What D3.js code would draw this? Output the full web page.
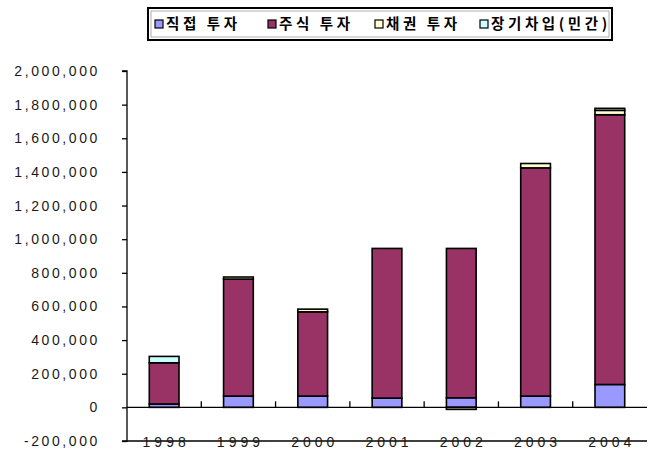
<!DOCTYPE html>
<html>
<head>
<meta charset="utf-8">
<script src="https://cdn.jsdelivr.net/npm/d3@7"></script>
<style>
  html, body { margin: 0; padding: 0; background: #fff; }
  svg { display: block; }
</style>
</head>
<body>
<svg id="chart" width="648" height="454"></svg>
<script>
// Years on the category axis
const years = ["1998", "1999", "2000", "2001", "2002", "2003", "2004"];

// Series names (legend order = stacking order from the bottom)
const seriesNames = ["직접 투자", "주식 투자", "채권 투자", "장기차입(민간)"];

// Series values per year
const directInv = [20000, 67000, 67000, 55000, 57000, 67000, 136000];
const stockInv  = [245000, 696000, 501000, 890000, 888000, 1357000, 1604000];
const bondInv   = [0, 12000, 16000, 0, -12000, 26000, 26000];
const loanInv   = [38000, 0, 0, 0, 0, 0, 12000];

const seriesColors = ["#9999ff", "#993366", "#ffffcc", "#ccffff"];

// Y axis ticks
const yTicks = [-200000, 0, 200000, 400000, 600000, 800000, 1000000, 1200000,
                1400000, 1600000, 1800000, 2000000];

const keys = ["direct", "stock", "bond", "loan"];
const rows = years.map((yr, i) => ({
  year: yr, direct: directInv[i], stock: stockInv[i], bond: bondInv[i], loan: loanInv[i]
}));

const svg = d3.select("#chart");
const plotLeft = 127, plotRight = 647, plotTop = 71, plotBottom = 441;

const x = d3.scaleBand().domain(years).range([plotLeft, plotRight])
  .paddingInner(0.6).paddingOuter(0.3);
const y = d3.scaleLinear().domain([-200000, 2000000]).range([plotBottom, plotTop]);

const stack = d3.stack().keys(keys).offset(d3.stackOffsetDiverging);
const layers = stack(rows);

// Bars
const g = svg.append("g");
layers.forEach((layer, li) => {
  g.selectAll(null).data(layer.filter(d => d[1] !== d[0])).enter().append("rect")
    .attr("x", d => x(d.data.year))
    .attr("width", x.bandwidth())
    .attr("y", d => y(Math.max(d[0], d[1])))
    .attr("height", d => Math.abs(y(d[0]) - y(d[1])))
    .attr("fill", seriesColors[li])
    .attr("stroke", "#000")
    .attr("stroke-width", 1.6);
});

// Zero line with category dividers
svg.append("line")
  .attr("x1", plotLeft).attr("x2", plotRight)
  .attr("y1", y(0)).attr("y2", y(0))
  .attr("stroke", "#000").attr("stroke-width", 1.3);
const step = x.step();
const dividers = d3.range(1, years.length).map(i => plotLeft + i * step);
svg.selectAll(null).data(dividers).enter().append("line")
  .attr("x1", d => d).attr("x2", d => d)
  .attr("y1", y(0) - 6).attr("y2", y(0))
  .attr("stroke", "#000").attr("stroke-width", 1.3);

// Bottom frame line
svg.append("line")
  .attr("x1", plotLeft).attr("x2", plotRight)
  .attr("y1", plotBottom).attr("y2", plotBottom)
  .attr("stroke", "#000").attr("stroke-width", 1.3);

const labelFont = "Liberation Sans, Arial, sans-serif";

// Y axis
const yAxis = d3.axisLeft(y).tickValues(yTicks).tickSize(5).tickPadding(22)
  .tickFormat(d => d3.format(",")(d).replace("−", "-"));
const ya = svg.append("g").attr("transform", `translate(${plotLeft},0)`).call(yAxis);
ya.select(".domain").attr("stroke", "#000").attr("stroke-width", 1.3)
  .attr("d", `M-5,${plotTop}H0V${plotBottom}H-5`);
ya.selectAll(".tick line").attr("stroke", "#000").attr("stroke-width", 1.3);
ya.selectAll(".tick text")
  .attr("font-family", labelFont)
  .attr("font-size", 14).attr("letter-spacing", 2.6).attr("fill", "#1a1a1a");

// X labels sit on the bottom frame line
svg.selectAll(null).data(years).enter().append("text")
  .attr("x", d => x(d) + x.bandwidth() / 2 + 2)
  .attr("y", plotBottom + 1)
  .attr("dy", "0.35em")
  .attr("text-anchor", "middle")
  .attr("font-family", labelFont)
  .attr("font-size", 14).attr("letter-spacing", 4).attr("fill", "#1a1a1a")
  .text(d => d);

// Legend
const lg = svg.append("g");
lg.append("rect").attr("x", 148).attr("y", 8).attr("width", 464).attr("height", 32)
  .attr("fill", "#fff").attr("stroke", "#000").attr("stroke-width", 2);
lg.append("rect").attr("x", 151).attr("y", 11).attr("width", 458).attr("height", 26)
  .attr("fill", "none").attr("stroke", "#999").attr("stroke-width", 0.8);
const legendX = [155, 268, 375, 480];
seriesNames.forEach((name, i) => {
  lg.append("rect").attr("x", legendX[i]).attr("y", 20).attr("width", 8).attr("height", 8)
    .attr("fill", seriesColors[i]).attr("stroke", "#000").attr("stroke-width", 1.2);
  lg.append("text").attr("x", legendX[i] + 11).attr("y", 24).attr("dy", "0.35em")
    .attr("font-family", "Noto Sans CJK KR, sans-serif")
    .attr("font-weight", "bold").attr("font-size", 14.5).attr("letter-spacing", 3.6)
    .attr("fill", "#000")
    .text(name);
});
</script>
</body>
</html>
